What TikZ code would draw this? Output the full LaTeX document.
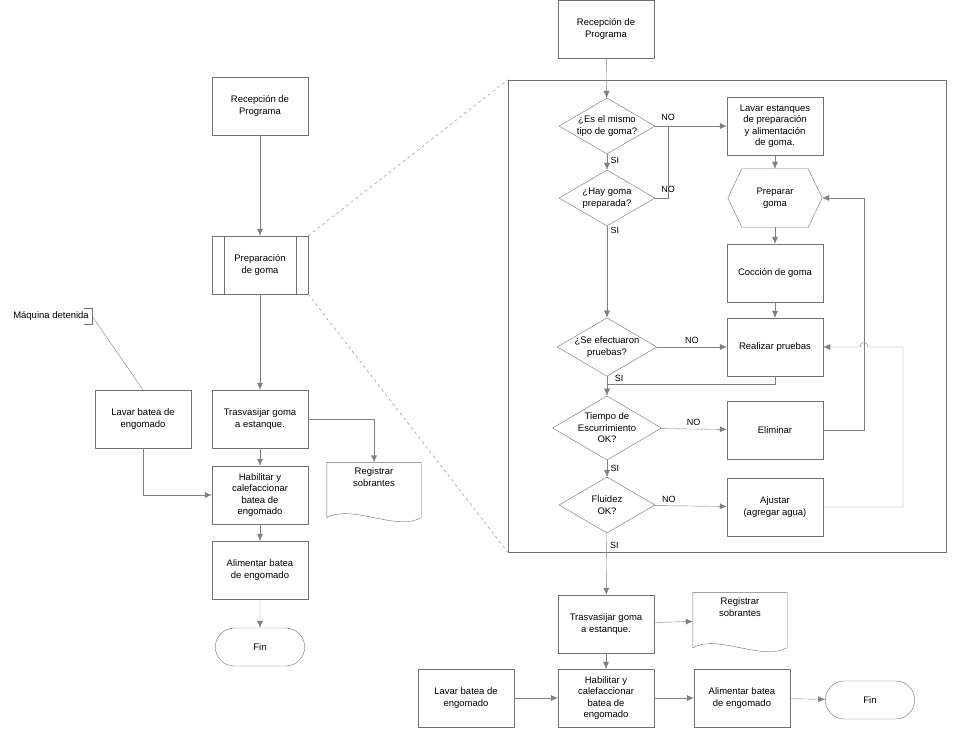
\documentclass[tikz,border=0pt]{standalone}
\usepackage{fontspec}
\setmainfont{Liberation Sans}
\usetikzlibrary{shapes.geometric,shapes.misc,arrows.meta}
\definecolor{linea}{HTML}{808080}
\definecolor{borde}{HTML}{707070}
\tikzset{
  proc/.style = {draw=borde,minimum width=96pt,minimum height=58pt,align=center,inner sep=2pt},
  deci/.style = {diamond,draw=borde,minimum width=96pt,minimum height=56pt,aspect=1.7,inner sep=0pt,align=center},
  term/.style = {rounded rectangle,draw=borde,minimum width=96pt,minimum height=38pt},
  doc/.style  = {minimum width=94pt,minimum height=55pt,align=center,anchor=center},
  flecha/.style = {draw=linea,-{Latex[length=7pt,width=6pt]}},
  linea/.style = {draw=linea},
  etq/.style = {font=\fontsize{9}{10}\selectfont}
}
\newcommand{\docshape}[1]{%
  \draw[borde] (#1.south west) -- (#1.north west) -- (#1.north east) -- (#1.south east)
    .. controls ([xshift=-25pt,yshift=-14pt]#1.south east) and ([xshift=25pt,yshift=14pt]#1.south west) .. (#1.south west);}
\begin{document}
\begin{tikzpicture}[x=1pt,y=-1pt,font=\fontsize{9.5}{11.5}\selectfont]
  \useasboundingbox (0,0) rectangle (959,733);
  % left flow
  \node[proc] (recep1) at (260,106) {Recepción de\\Programa};
  \node[proc] (prep) at (260,265) {Preparación\\de goma};
  \draw[borde] ([xshift=12pt]prep.north west) -- ([xshift=12pt]prep.south west)
               ([xshift=-12pt]prep.north east) -- ([xshift=-12pt]prep.south east);
  \node[proc] (trasv1) at (260,419) {Trasvasijar goma\\a estanque.};
  \node[proc] (hab1) at (260,495) {Habilitar y\\calefaccionar\\batea de\\engomado};
  \node[proc] (alim1) at (260,570) {Alimentar batea\\de engomado};
  \node[term] (fin1) at (260,647) {Fin};
  \node[proc] (lavar1) at (143,419) {Lavar batea de\\engomado};
  \node[doc] (reg1) at (374,490) {Registrar\\sobrantes\\[14pt]};
  \docshape{reg1}
  \node[anchor=east,inner sep=1pt] (maq) at (90,316) {Máquina detenida};
  \draw[borde] (84,308) -- (92,308) -- (92,324) -- (84,324);
  \coordinate (maqr) at (92,316);
  \draw[flecha] (recep1) -- (prep);
  \draw[flecha] (prep) -- (trasv1);
  \draw[flecha] (trasv1) -- (hab1);
  \draw[flecha] (hab1) -- (alim1);
  \draw[flecha] (alim1) -- (fin1);
  \draw[flecha] (lavar1.south) |- (hab1.west);
  \draw[flecha] (trasv1.east) -| (reg1.north);
  \draw[linea] (maqr) -- (lavar1.north);
  % detail box
  \node[draw=borde,minimum width=438pt,minimum height=472pt] (zoom) at (727,316) {};
  \draw[linea,dashed] (prep.north east) -- (zoom.north west)
                      (prep.south east) -- (zoom.south west);
  \node[proc] (recep2) at (606,29) {Recepción de\\Programa};
  \node[deci] (d1) at (607,126) {¿Es el mismo\\tipo de goma?};
  \node[deci] (d2) at (607,198) {¿Hay goma\\preparada?};
  \node[deci] (d3) at (607,347) {¿Se efectuaron\\pruebas?};
  \node[deci] (d4) at (607,428) {Tiempo de\\Escurrimiento\\OK?};
  \node[deci] (d5) at (607,505) {Fluidez\\OK?};
  \node[proc] (lavest) at (775,126) {Lavar estanques\\de preparación\\y alimentación\\de goma.};
  \node[minimum width=94pt,minimum height=58pt,align=center] (pgoma) at (775,198) {Preparar\\goma};
  \draw[borde] (pgoma.west) -- ([xshift=14pt]pgoma.north west) -- ([xshift=-14pt]pgoma.north east)
    -- (pgoma.east) -- ([xshift=-14pt]pgoma.south east) -- ([xshift=14pt]pgoma.south west) -- cycle;
  \node[proc] (coccion) at (775,273) {Cocción de goma};
  \node[proc] (realiz) at (775,347) {Realizar pruebas};
  \node[proc] (elim) at (775,430) {Eliminar};
  \node[proc] (ajust) at (775,507) {Ajustar\\(agregar agua)};
  % bottom right
  \node[proc] (trasv2) at (606,624) {Trasvasijar goma\\a estanque.};
  \node[doc] (reg2) at (740,620) {Registrar\\sobrantes\\[14pt]};
  \docshape{reg2}
  \node[proc] (hab2) at (606,698) {Habilitar y\\calefaccionar\\batea de\\engomado};
  \node[proc] (lavar2) at (466,698) {Lavar batea de\\engomado};
  \node[proc] (alim2) at (742,698) {Alimentar batea\\de engomado};
  \node[term] (fin2) at (870,700) {Fin};
  \coordinate (junta) at (668,126);
  \coordinate (uni) at (607,384);
  % connectors
  \draw[flecha] (recep2) -- (d1);
  \draw[flecha] (d1) -- node[etq,right,pos=0.4] {SI} (d2);
  \draw[flecha] (d2) -- node[etq,right,pos=0.05] {SI} (d3);
  \draw[flecha] (d1.east) -- (lavest.west);
  \draw[linea] (d2.east) -| (junta);
  \node[etq] at (668,117) {NO};
  \node[etq] at (668,189) {NO};
  \draw[flecha] (lavest) -- (pgoma);
  \draw[flecha] (pgoma) -- (coccion);
  \draw[flecha] (coccion) -- (realiz);
  \draw[flecha] (d3) -- node[etq,above] {NO} (realiz);
  \draw[linea] (realiz.south) |- (uni);
  \draw[flecha] (d3.south) -- (d4.north);
  \node[etq] at (619,378) {SI};
  \draw[flecha] (d4) -- node[etq,above] {NO} (elim);
  \draw[flecha] (d4) -- node[etq,right,pos=0.5] {SI} (d5);
  \draw[flecha] (d5) -- node[etq,above,pos=0.2] {NO} (ajust);
  \draw[flecha] (elim.east) -- (864,430) -- (864,198) -- (pgoma.east);
  \draw[flecha] (ajust.east) -- (903,507) -- (903,347) -- (868,347)
    .. controls (868,341) and (860,341) .. (860,347) -- (realiz.east);
  \draw[flecha] (d5) -- node[etq,right,pos=0.2] {SI} (trasv2);
  \draw[flecha] (trasv2) -- (reg2);
  \draw[flecha] (trasv2) -- (hab2);
  \draw[flecha] (lavar2) -- (hab2);
  \draw[flecha] (hab2) -- (alim2);
  \draw[flecha] (alim2) -- (fin2);
\end{tikzpicture}
\end{document}
